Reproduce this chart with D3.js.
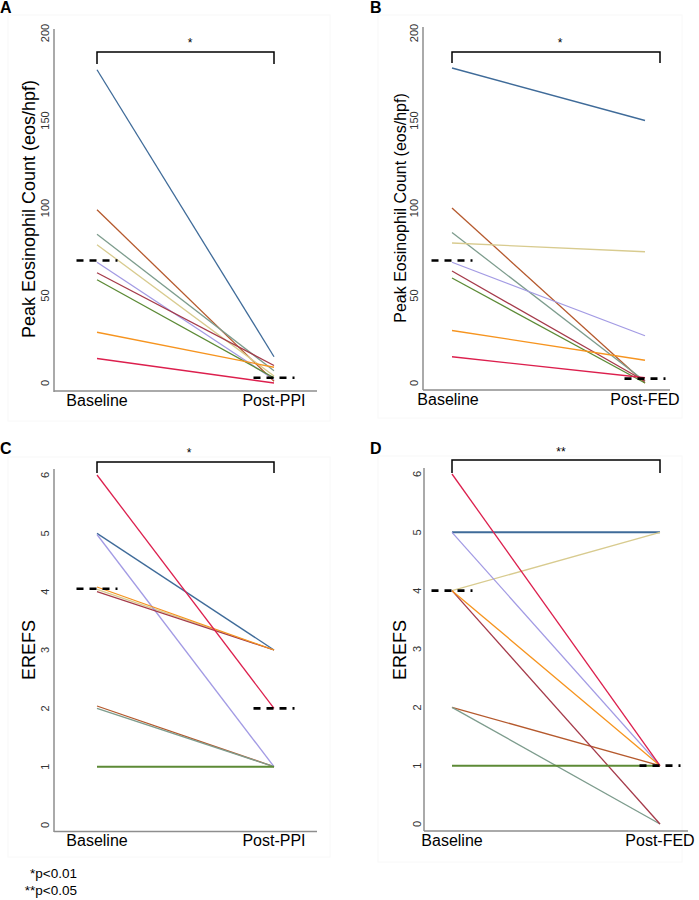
<!DOCTYPE html>
<html>
<head>
<meta charset="utf-8">
<script src="https://cdn.jsdelivr.net/npm/d3@7"></script>
<style>
  html, body { margin: 0; padding: 0; background: #fff; }
  svg { display: block; font-family: "Liberation Sans", Arial, Helvetica, sans-serif; }
</style>
</head>
<body>
<svg id="chart" width="699" height="900"></svg>
<script>
// ---------- data ----------
const subjects = ["S1","S2","S3","S4","S5","S6","S7","S8","S9"];
const subjectColors = ["#3f6b99","#b5592d","#7d9c8d","#d8cb8f","#a39be4","#a53a4a","#5c8a36","#f6941f","#dc1f4d"];

const catsPPI = ["Baseline","Post-PPI"];
const catsFED = ["Baseline","Post-FED"];

// Panel A: peak eosinophil count, baseline vs post-PPI
const eosA_baseline = [179, 99, 85, 79, 69, 63, 59, 29, 14];
const eosA_post     = [15, 1, 7, 4, 2, 10, 3, 9, 0];
const eosA_median   = [70, 3];

// Panel B: peak eosinophil count, baseline vs post-FED
const eosB_baseline = [180, 100, 86, 80, 69, 64, 60, 30, 15];
const eosB_post     = [150, 0, 1, 75, 27, 1, 0, 13, 3];
const eosB_median   = [70, 2.5];

// Panel C: EREFS, baseline vs post-PPI
const erefsC_baseline = [5, 2.04, 2.0, 4.04, 4.98, 4.0, 1, 4.08, 6];
const erefsC_post     = [3, 1, 1, 3, 1, 3, 1, 3, 2];
const erefsC_median   = [4.05, 2];

// Panel D: EREFS, baseline vs post-FED
const erefsD_baseline = [5, 2, 2, 4, 5, 4, 1, 4, 6];
const erefsD_post     = [5, 1, 0, 5, 1, 0, 1, 1, 1];
const erefsD_median   = [4, 1];

const eosTicks = [0, 50, 100, 150, 200];
const erefsTicks = [0, 1, 2, 3, 4, 5, 6];

const sigA = "*", sigB = "*", sigC = "*", sigD = "**";
const footnotes = ["*p<0.01", "**p<0.05"];

// ---------- layout ----------
const svg = d3.select("#chart");

const panels = [
  { label: "A", cats: catsPPI, base: eosA_baseline, post: eosA_post, med: eosA_median,
    ticks: eosTicks, ydom: [0, 200], yr: [383, 33], title: "Peak Eosinophil Count (eos/hpf)", titleSize: 18,
    titleX: 29, titleY: 209, axisX: 54, axisTop: 29, axisBottom: 392, xAxisY: 391, xAxisRight: 317,
    xr: [97, 274], catLabelX: [97, 274], catLabelY: 406, tickX: 45,
    bracket: { x1: 97, x2: 274, y: 52, h: 12, sym: sigA, symX: 190, symY: 47 },
    frame: [8, 15, 322, 406], letterX: 0, letterY: 13 },
  { label: "B", cats: catsFED, base: eosB_baseline, post: eosB_post, med: eosB_median,
    ticks: eosTicks, ydom: [0, 200], yr: [383, 33], title: "Peak Eosinophil Count (eos/hpf)", titleSize: 16,
    titleX: 400, titleY: 208, axisX: 423, axisTop: 27, axisBottom: 390, xAxisY: 390, xAxisRight: 670,
    xr: [452, 645], catLabelX: [448, 645], catLabelY: 405, tickX: 414,
    bracket: { x1: 452, x2: 660, y: 52, h: 11, sym: sigB, symX: 560, symY: 47 },
    frame: [378, 15, 304, 403], letterX: 370, letterY: 13 },
  { label: "C", cats: catsPPI, base: erefsC_baseline, post: erefsC_post, med: erefsC_median,
    ticks: erefsTicks, ydom: [0, 6], yr: [825, 475], title: "EREFS", titleSize: 18,
    titleX: 29, titleY: 650, axisX: 54, axisTop: 469, axisBottom: 832, xAxisY: 831.5, xAxisRight: 317,
    xr: [97, 274], catLabelX: [97, 274], catLabelY: 846, tickX: 45,
    bracket: { x1: 97, x2: 274, y: 462, h: 11, sym: sigC, symX: 189, symY: 457 },
    frame: [8, 457, 322, 400], letterX: 0, letterY: 454 },
  { label: "D", cats: catsFED, base: erefsD_baseline, post: erefsD_post, med: erefsD_median,
    ticks: erefsTicks, ydom: [0, 6], yr: [824, 474], title: "EREFS", titleSize: 18,
    titleX: 400, titleY: 650, axisX: 424, axisTop: 468, axisBottom: 831, xAxisY: 831, xAxisRight: 688,
    xr: [452, 660], catLabelX: [452, 660], catLabelY: 846, tickX: 417,
    bracket: { x1: 452, x2: 660, y: 460, h: 13, sym: sigD, symX: 561, symY: 456 },
    frame: [378, 456, 304, 406], letterX: 370, letterY: 454 }
];

panels.forEach(p => {
  const g = svg.append("g");
  const x = d3.scalePoint().domain(p.cats).range(p.xr);
  const y = d3.scaleLinear().domain(p.ydom).range(p.yr);

  // faint panel frame
  g.append("rect").attr("x", p.frame[0]).attr("y", p.frame[1])
    .attr("width", p.frame[2]).attr("height", p.frame[3])
    .attr("fill", "none").attr("stroke", "#f8f8f8").attr("stroke-width", 1);

  // panel letter
  g.append("text").attr("x", p.letterX).attr("y", p.letterY)
    .attr("font-size", 16).attr("font-weight", "bold").attr("fill", "#000")
    .text(p.label);

  // axes lines
  g.append("line").attr("x1", p.axisX).attr("x2", p.axisX)
    .attr("y1", p.axisTop).attr("y2", p.axisBottom)
    .attr("stroke", "#8e8e8e").attr("stroke-width", 1.5);
  g.append("line").attr("x1", p.axisX).attr("x2", p.xAxisRight)
    .attr("y1", p.xAxisY).attr("y2", p.xAxisY)
    .attr("stroke", "#8e8e8e").attr("stroke-width", 1.5);

  // y tick labels (rotated)
  g.selectAll("text.ytick").data(p.ticks).join("text")
    .attr("class", "ytick")
    .attr("transform", d => `translate(${p.tickX},${y(d)}) rotate(-90)`)
    .attr("text-anchor", "middle").attr("dominant-baseline", "central")
    .attr("font-size", 11).attr("fill", "#333")
    .text(d => d);

  // y title
  g.append("text")
    .attr("transform", `translate(${p.titleX},${p.titleY}) rotate(-90)`)
    .attr("text-anchor", "middle").attr("dominant-baseline", "central")
    .attr("font-size", p.titleSize).attr("fill", "#000")
    .text(p.title);

  // x category labels
  g.selectAll("text.xcat").data(p.cats).join("text")
    .attr("class", "xcat")
    .attr("x", (d, i) => p.catLabelX[i])
    .attr("y", p.catLabelY)
    .attr("text-anchor", "middle").attr("font-size", 16).attr("fill", "#000")
    .text(d => d);

  // subject lines
  const rows = subjects.map((s, i) => ({ s, i, v: [p.base[i], p.post[i]] }));
  const line = d3.line().x((d, j) => x(p.cats[j])).y(d => y(d));
  g.selectAll("path.subj").data(rows).join("path")
    .attr("class", "subj")
    .attr("d", d => line(d.v))
    .attr("fill", "none")
    .attr("stroke", d => subjectColors[d.i])
    .attr("stroke-width", d => d.v[0] === d.v[1] ? 2 : 1.3);

  // median dashes
  g.selectAll("line.med").data(p.med).join("line")
    .attr("class", "med")
    .attr("x1", (d, j) => x(p.cats[j]) - 20.5)
    .attr("x2", (d, j) => x(p.cats[j]) + 20.5)
    .attr("y1", d => y(d)).attr("y2", d => y(d))
    .attr("stroke", "#000").attr("stroke-width", 2.6)
    .attr("stroke-dasharray", "7,6");

  // significance bracket
  const b = p.bracket;
  g.append("path")
    .attr("d", `M${b.x1},${b.y + b.h}V${b.y}H${b.x2}V${b.y + b.h}`)
    .attr("fill", "none").attr("stroke", "#000").attr("stroke-width", 1.5);
  g.append("text").attr("x", b.symX).attr("y", b.symY)
    .attr("text-anchor", "middle").attr("font-size", 12).attr("fill", "#000")
    .text(b.sym);
});

// footnotes
svg.selectAll("text.foot").data(footnotes).join("text")
  .attr("class", "foot")
  .attr("x", 77).attr("y", (d, i) => 878 + i * 17)
  .attr("text-anchor", "end").attr("font-size", 13.5).attr("fill", "#000")
  .text(d => d);
</script>
</body>
</html>
